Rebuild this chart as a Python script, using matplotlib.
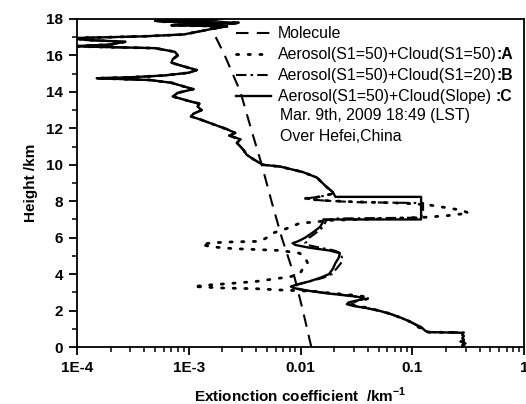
import matplotlib
matplotlib.use("Agg")
import matplotlib.pyplot as plt
from matplotlib.ticker import FixedLocator, NullFormatter, LogLocator

plt.rcParams['font.family'] = ['Liberation Sans', 'DejaVu Sans']
plt.rcParams['mathtext.fontset'] = 'custom'
plt.rcParams['mathtext.rm'] = 'Liberation Sans'
plt.rcParams['mathtext.bf'] = 'Liberation Sans:bold'

# ---------------- data (height km, extinction km^-1) ----------------
mol_h = [0, 2, 4, 6, 8, 10, 12, 14, 16, 18]
mol_x = [0.0125, 0.0105, 0.0087, 0.0068, 0.0055, 0.0045, 0.0036, 0.0029, 0.0021, 0.00145]

c_h = [0.0, 0.1, 0.2, 0.3, 0.4, 0.5, 0.6, 0.7, 0.78, 0.82, 0.9, 1.0, 1.1, 1.2, 1.4, 1.6,
       1.8, 2.0, 2.15, 2.25, 2.35, 2.45, 2.55, 2.65, 2.75, 2.85, 2.95, 3.05, 3.15, 3.25,
       3.32, 3.45, 3.6, 3.8, 4.0, 4.3, 4.6, 4.9, 5.15, 5.3, 5.45, 5.6, 5.7, 5.8, 6.0, 6.3,
       6.6, 6.9, 7.0, 7.0, 8.24, 8.24, 8.5, 8.8, 9.3, 9.6, 9.9, 10.0, 10.3, 10.55, 10.8,
       11.0, 11.2, 11.4, 11.6, 11.75, 11.95, 12.2, 12.5, 12.65, 12.8, 13.0, 13.2, 13.35,
       13.5, 13.75, 13.95, 14.15, 14.3, 14.5, 14.65, 14.75, 14.8, 14.9, 15.05, 15.2, 15.4,
       15.6, 15.8, 16.0, 16.2, 16.4, 16.5, 16.6, 16.75, 16.85, 16.95, 17.05, 17.15, 17.3,
       17.45, 17.6, 17.65, 17.7, 17.75, 17.8, 17.85, 17.9, 17.95, 18.0]
c_x = [0.29, 0.28, 0.30, 0.27, 0.29, 0.28, 0.29, 0.28, 0.285, 0.14, 0.13, 0.125, 0.12, 0.11,
       0.095, 0.08, 0.065, 0.05, 0.038, 0.03, 0.026, 0.027, 0.032, 0.037, 0.033, 0.024,
       0.017, 0.013, 0.010, 0.0086, 0.0082, 0.0095, 0.012, 0.015, 0.018, 0.0195, 0.0205,
       0.022, 0.0225, 0.018, 0.012, 0.009, 0.0085, 0.0095, 0.011, 0.013, 0.015, 0.016,
       0.016, 0.12, 0.12, 0.0205, 0.0195, 0.017, 0.014, 0.0105, 0.0066, 0.0046, 0.0038,
       0.0033, 0.0031, 0.0029, 0.0027, 0.0029, 0.0023, 0.0026, 0.0022, 0.0017, 0.00125,
       0.00105, 0.0011, 0.0013, 0.0012, 0.00125, 0.0010, 0.00072, 0.0008, 0.0011, 0.0009,
       0.0007, 0.00045, 0.00015, 0.0003, 0.0006, 0.0010, 0.00118, 0.0009, 0.0007, 0.00072,
       0.0008, 0.00075, 0.0005, 0.00009, 0.0002, 0.00027, 0.00012, 0.00009, 0.0004, 0.0009,
       0.0012, 0.0016, 0.0022, 0.0007, 0.0008, 0.0026, 0.0028, 0.0006, 0.0005, 0.0015, 0.002]

a_h = [0.0, 0.4, 0.8, 0.82, 1.0, 1.4, 1.8, 2.0, 2.15, 2.25, 2.4, 2.5, 2.6, 2.72, 2.82,
       2.92, 3.0, 3.06, 3.13, 3.2, 3.24, 3.32, 3.4, 3.5, 3.6, 3.75, 3.85, 4.0, 4.3, 4.6,
       4.9, 5.15, 5.3, 5.35, 5.4, 5.5, 5.62, 5.72, 5.77, 5.8, 6.0, 6.26, 6.5, 6.8, 6.85,
       6.95, 7.05, 7.12, 7.2, 7.35, 7.5, 7.65, 7.8, 7.9, 7.97, 8.05, 8.15, 8.25, 8.4]
a_x = [0.29, 0.29, 0.28, 0.135, 0.12, 0.095, 0.066, 0.05, 0.04, 0.033, 0.027, 0.03, 0.038,
       0.042, 0.033, 0.022, 0.016, 0.013, 0.0066, 0.004, 0.002, 0.0011, 0.0015, 0.0025,
       0.004, 0.006, 0.008, 0.0098, 0.0105, 0.0116, 0.011, 0.0098, 0.0065, 0.004, 0.0025,
       0.0016, 0.0013, 0.0016, 0.0025, 0.0043, 0.005, 0.0057, 0.0075, 0.0099, 0.013,
       0.018, 0.06, 0.13, 0.2, 0.32, 0.28, 0.2, 0.14, 0.08, 0.03, 0.015, 0.011, 0.015, 0.019]

b_h = [0.0, 0.3, 0.6, 0.8, 0.82, 1.0, 1.4, 1.8, 2.0, 2.15, 2.25, 2.35, 2.45, 2.55, 2.65,
       2.75, 2.85, 2.95, 3.05, 3.15, 3.25, 3.32, 3.45, 3.6, 3.8, 4.0, 4.3, 4.6, 4.9, 5.15,
       5.3, 5.45, 5.6, 5.7, 5.8, 6.0, 6.3, 6.6, 6.95, 7.05, 7.1, 7.5, 7.9, 7.95, 8.05,
       8.15, 8.25, 8.4]
b_x = [0.28, 0.29, 0.28, 0.29, 0.135, 0.125, 0.095, 0.065, 0.05, 0.038, 0.031, 0.027,
       0.028, 0.033, 0.038, 0.034, 0.025, 0.018, 0.013, 0.0105, 0.0088, 0.0083, 0.0098,
       0.012, 0.016, 0.019, 0.021, 0.023, 0.0235, 0.023, 0.02, 0.015, 0.0115, 0.011,
       0.0115, 0.012, 0.014, 0.016, 0.017, 0.02, 0.12, 0.125, 0.125, 0.03, 0.015, 0.011,
       0.015, 0.019]

labels = ["Molecule", "Aerosol(S1=50)+Cloud(S1=50)", "Aerosol(S1=50)+Cloud(S1=20)",
          "Aerosol(S1=50)+Cloud(Slope) "]
suffixes = ["", ":A", ":B", ":C"]
info_lines = ["Mar. 9th, 2009 18:49 (LST)", "Over Hefei,China"]
xticks = [1e-4, 1e-3, 1e-2, 1e-1, 1]
xticklabels = ["1E-4", "1E-3", "0.01", "0.1", "1"]
yticks = list(range(0, 19, 2))

# upper part shared by all aerosol+cloud retrievals
upper_h = [h for h in c_h if h > 8.4]
upper_x = [x for h, x in zip(c_h, c_x) if h > 8.4]

fig = plt.figure(figsize=(5.26, 4.04), dpi=100)
ax = fig.add_axes([0.1464, 0.141, 0.8498, 0.812])

l_mol, = ax.plot(mol_x, mol_h, color='black', lw=1.5, linestyle=(0, (6, 4)))
l_a, = ax.plot(a_x + upper_x, a_h + upper_h, color='black', lw=2.0,
               linestyle=(0, (0.8, 3.4)), dash_capstyle='round')
l_b, = ax.plot(b_x + upper_x, b_h + upper_h, color='black', lw=1.5,
               linestyle=(0, (5, 2, 1.2, 2)))
l_c, = ax.plot(c_x, c_h, color='black', lw=1.7, solid_joinstyle='round')

ax.set_xscale('log')
ax.set_xlim(1e-4, 1)
ax.set_ylim(0, 18)
ax.set_xticks(xticks)
ax.set_xticklabels(xticklabels)
ax.xaxis.set_minor_locator(LogLocator(base=10, subs=range(2, 10), numticks=20))
ax.xaxis.set_minor_formatter(NullFormatter())
ax.set_yticks(yticks)
ax.yaxis.set_minor_locator(FixedLocator(list(range(1, 18, 2))))

for lab in ax.get_xticklabels() + ax.get_yticklabels():
    lab.set_fontweight('bold')
    lab.set_fontsize(11)
ax.tick_params(which='major', direction='out', length=6, width=1.3, pad=4)
ax.tick_params(which='minor', direction='out', length=3.5, width=1.1)
ax.tick_params(top=False, right=False)
for s in ax.spines.values():
    s.set_linewidth(1.3)

ax.set_xlabel("Extionction coefficient  /km$^{\\mathbf{-1}}$", fontsize=11,
              fontweight='bold', labelpad=8)
ax.set_ylabel("Height /km", fontsize=11, fontweight='bold', labelpad=6)

leg = ax.legend([l_mol, l_a, l_b, l_c], labels, loc='upper left',
                bbox_to_anchor=(0.355, 0.978), frameon=False, fontsize=11.4,
                handlelength=2.2, handletextpad=0.45, labelspacing=0.38,
                borderaxespad=0.0, borderpad=0.0)

for i, line in enumerate(info_lines):
    ax.text(0.454, 0.706 - i * 0.064, line, transform=ax.transAxes, fontsize=11.4,
            ha='left', va='center')

fig.canvas.draw()
W, H = fig.canvas.get_width_height()
for txt, suf in zip(leg.get_texts(), suffixes):
    if suf:
        bb = txt.get_window_extent()
        fig.text(bb.x1 / W, (bb.y0 + bb.y1) / 2 / H, suf, fontsize=11.4,
                 fontweight='bold', ha='left', va='center')

fig.savefig("out.png", dpi=100)
